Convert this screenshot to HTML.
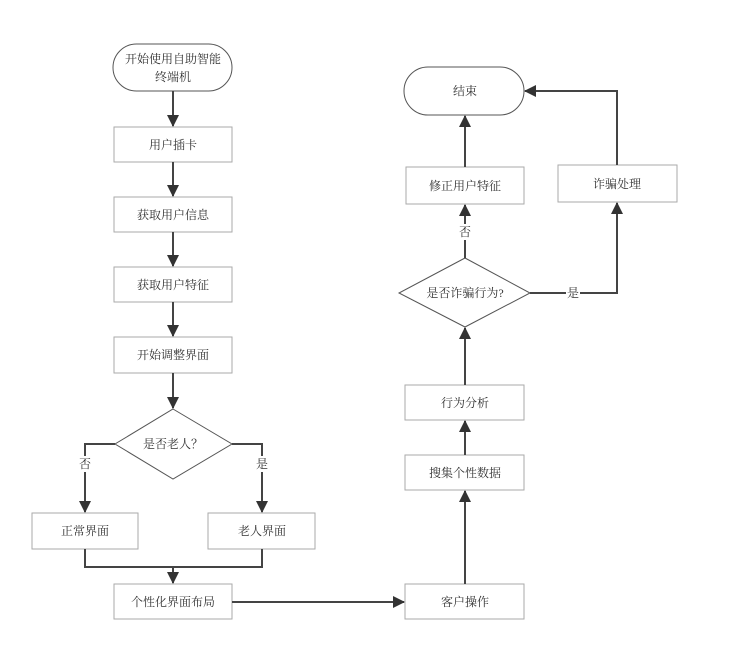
<!DOCTYPE html>
<html><head><meta charset="utf-8"><style>
html,body{margin:0;padding:0;background:#fff}
svg text{font-family:"Liberation Serif","Noto Serif CJK SC","Noto Sans CJK SC",serif;font-size:12px;fill:#333;text-anchor:middle;dominant-baseline:central}
</style></head><body>
<svg width="733" height="645" viewBox="0 0 733 645" xmlns="http://www.w3.org/2000/svg">
<defs><marker id="a" markerWidth="12" markerHeight="12" refX="11" refY="6" orient="auto" markerUnits="userSpaceOnUse"><path d="M0,0 L12,6 L0,12 z" fill="#333"/></marker></defs>
<g fill="#fff" stroke="#aaa" stroke-width="1">
<rect x="113" y="44" width="119" height="47" rx="23.5" stroke="#555"/>
<rect x="114" y="127" width="118" height="35"/>
<rect x="114" y="197" width="118" height="35"/>
<rect x="114" y="267" width="118" height="35"/>
<rect x="114" y="337" width="118" height="36"/>
<polygon points="173,409 232,444 173,479 115,444" stroke="#555"/>
<rect x="32" y="513" width="106" height="36"/>
<rect x="208" y="513" width="107" height="36"/>
<rect x="114" y="584" width="118" height="35"/>
<rect x="405" y="584" width="119" height="35"/>
<rect x="405" y="455" width="119" height="35"/>
<rect x="405" y="385" width="119" height="35"/>
<polygon points="465,258 530,293 465,327 399,293" stroke="#555"/>
<rect x="406" y="167" width="118" height="37"/>
<rect x="404" y="67" width="120" height="48" rx="24" stroke="#555"/>
<rect x="558" y="165" width="119" height="37"/>
</g>
<g stroke="#444" stroke-width="2" fill="none">
<line x1="173" y1="91" x2="173" y2="126" marker-end="url(#a)"/>
<line x1="173" y1="162" x2="173" y2="196" marker-end="url(#a)"/>
<line x1="173" y1="232" x2="173" y2="266" marker-end="url(#a)"/>
<line x1="173" y1="302" x2="173" y2="336" marker-end="url(#a)"/>
<line x1="173" y1="373" x2="173" y2="408" marker-end="url(#a)"/>
<polyline points="115,444 85,444 85,512" marker-end="url(#a)"/>
<polyline points="232,444 262,444 262,512" marker-end="url(#a)"/>
<polyline points="85,549 85,567 262,567 262,549"/>
<line x1="173" y1="567" x2="173" y2="583" marker-end="url(#a)"/>
<line x1="232" y1="602" x2="404" y2="602" marker-end="url(#a)"/>
<line x1="465" y1="584" x2="465" y2="491" marker-end="url(#a)"/>
<line x1="465" y1="455" x2="465" y2="421" marker-end="url(#a)"/>
<line x1="465" y1="385" x2="465" y2="328" marker-end="url(#a)"/>
<line x1="465" y1="258" x2="465" y2="205" marker-end="url(#a)"/>
<line x1="465" y1="167" x2="465" y2="116" marker-end="url(#a)"/>
<polyline points="530,293 617,293 617,203" marker-end="url(#a)"/>
<polyline points="617,165 617,91 525,91" marker-end="url(#a)"/>
</g>
<g fill="#fff" stroke="none">
<rect x="78" y="456" width="14" height="16"/>
<rect x="255" y="456" width="14" height="16"/>
<rect x="458" y="224" width="14" height="16"/>
<rect x="566" y="285" width="14" height="16"/>
</g>
<text x="173" y="59">开始使用自助智能</text>
<text x="173" y="77">终端机</text>
<text x="173" y="145">用户插卡</text>
<text x="173" y="215">获取用户信息</text>
<text x="173" y="285">获取用户特征</text>
<text x="173" y="355">开始调整界面</text>
<text x="173" y="444">是否老人？</text>
<text x="85" y="464">否</text>
<text x="262" y="464">是</text>
<text x="85" y="531">正常界面</text>
<text x="262" y="531">老人界面</text>
<text x="173" y="602">个性化界面布局</text>
<text x="465" y="602">客户操作</text>
<text x="465" y="473">搜集个性数据</text>
<text x="465" y="403">行为分析</text>
<text x="465" y="293">是否诈骗行为?</text>
<text x="465" y="232">否</text>
<text x="573" y="293">是</text>
<text x="465" y="186">修正用户特征</text>
<text x="465" y="91">结束</text>
<text x="617" y="184">诈骗处理</text>
</svg>
</body></html>
